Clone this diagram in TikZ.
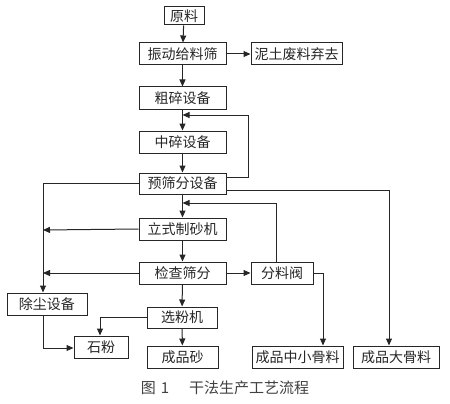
\documentclass[tikz,border=0pt]{standalone}
\usepackage{fontspec}
\newfontfamily\cjk{Noto Sans CJK SC}
\usetikzlibrary{arrows.meta}
\begin{document}
\begin{tikzpicture}[x=1pt,y=-1pt,
  box/.style={draw=black!85,line width=1pt,inner sep=0pt,font=\cjk\fontsize{14}{14}\selectfont,text=black!85},
  link/.style={draw=black!85,line width=1pt},
  arr/.style={link,-{Triangle[length=7pt,width=6pt]}}]
\useasboundingbox (0,0) rectangle (450,404);
\newcommand{\bx}[6]{\node[box,minimum width=#4-#2,minimum height=#5-#3] (#1) at ({(#2+#4)/2},{(#3+#5)/2}) {#6};}
\bx{yl}{164}{7}{204}{25}{原料}
\bx{zd}{139}{43}{226}{65}{振动给料筛}
\bx{nt}{251}{43}{342}{65}{泥土废料弃去}
\bx{cs}{139}{87}{226}{109}{粗碎设备}
\bx{zs}{139}{131}{226}{153}{中碎设备}
\bx{ys}{139}{173}{226}{194}{预筛分设备}
\bx{lz}{139}{218}{226}{240}{立式制砂机}
\bx{jc}{139}{262}{226}{284}{检查筛分}
\bx{fl}{251}{262}{313}{284}{分料阀}
\bx{cc}{7}{293}{87}{315}{除尘设备}
\bx{xf}{147}{307}{217}{328}{选粉机}
\bx{sf}{74}{336}{128}{358}{石粉}
\bx{cp}{147}{346}{218}{368}{成品砂}
\bx{zx}{252}{346}{343}{368}{成品中小骨料}
\bx{dg}{353}{346}{439}{368}{成品大骨料}
\coordinate (c1) at (182.5,115);
\coordinate (c2) at (182.5,203);
\coordinate (L1) at (43,230);
\coordinate (L2) at (43,273);
\draw[arr] (yl) -- (zd);
\draw[arr] (zd) -- (nt);
\draw[arr] (zd) -- (cs);
\draw[arr] (cs) -- (zs);
\draw[arr] (zs) -- (ys);
\draw[arr] (ys) -- (lz);
\draw[arr] (lz) -- (jc);
\draw[arr] (jc) -- (fl);
\draw[arr] (jc) -- (xf);
\draw[arr] (xf) -- (cp);
\draw[arr] (ys.east |- 0,177) -- (248,177) -- (248,115) -- (c1);
\draw[arr] (ys.east |- 0,190) -- (389,190) -- (dg.north -| 389,0);
\draw[arr] (ys.west |- 0,183) -- (43,183) -- (cc.north -| 43,0);
\draw[arr] (lz.west) -- (L1);
\draw[arr] (jc.west) -- (L2);
\draw[arr] (fl.north -| 276,0) -- (276,203) -- (c2);
\draw[arr] (fl.east) -- (323,273) -- (zx.north -| 323,0);
\draw[arr] (xf.west |- 0,317) -- (100,317) -- (sf.north -| 100,0);
\draw[arr] (cc.south -| 43,0) -- (43,348) -- (sf.west |- 0,348);
\node[font=\cjk\fontsize{15}{15}\selectfont,text=black!75,anchor=center] (cap) at (225,388) {图\,\,1\hspace{20pt}干法生产工艺流程};
\end{tikzpicture}
\end{document}
